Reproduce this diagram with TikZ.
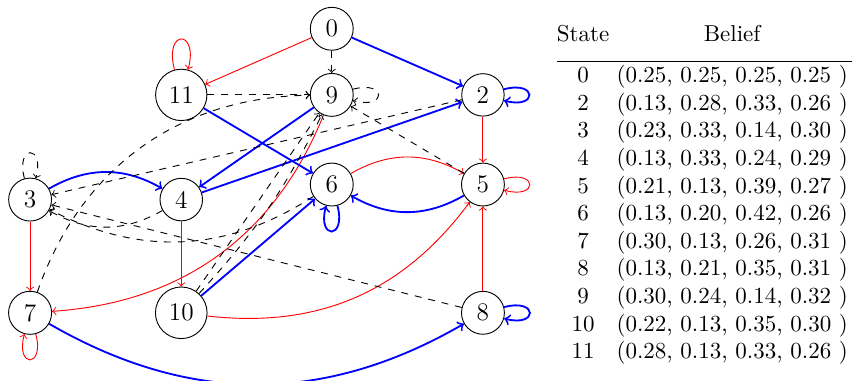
\documentclass[tikz,border=0pt]{standalone}
\usepackage{booktabs}

\begin{document}
\begin{tikzpicture}[
    state/.style={circle, draw, font=\fontsize{11}{13}\selectfont},
    obsr/.style={->, red},
    obsb/.style={->, blue, thick},
    obsd/.style={->, dashed}]
    \useasboundingbox (0, 0) rectangle (13.02, 5.82);
    \node[state] (s0) at (5.07, 5.38) {0};
    \node[state] (s11) at (2.77, 4.37) {11};
    \node[state] (s9) at (5.07, 4.37) {9};
    \node[state] (s2) at (7.38, 4.37) {2};
    \node[state] (s3) at (0.46, 2.77) {3};
    \node[state] (s4) at (2.77, 2.77) {4};
    \node[state] (s6) at (5.07, 3.00) {6};
    \node[state] (s5) at (7.38, 3.00) {5};
    \node[state] (s7) at (0.46, 1.04) {7};
    \node[state] (s10) at (2.77, 1.04) {10};
    \node[state] (s8) at (7.38, 1.04) {8};
    % red edges
    \draw[obsr] (s0) to (s11);
    \draw[obsr] (s11) to[loop above] (s11);
    \draw[obsr] (s2) to (s5);
    \draw[obsr] (s5) to[loop right] (s5);
    \draw[obsr] (s3) to (s7);
    \draw[obsr] (s7) to[loop below] (s7);
    \draw[obsr] (s4) to (s10);
    \draw[obsr] (s8) to (s5);
    \draw[obsr] (s6) to[bend left=30] (s5);
    \draw[obsr] (s10) to[bend right=30] (s5);
    \draw[obsr] (s9) to[bend left=32] (s7);
    % blue edges
    \draw[obsb] (s0) to (s2);
    \draw[obsb] (s2) to[loop right] (s2);
    \draw[obsb] (s11) to (s6);
    \draw[obsb] (s9) to (s4);
    \draw[obsb] (s4) to (s2);
    \draw[obsb] (s3) to[bend left=30] (s4);
    \draw[obsb] (s5) to[bend left=30] (s6);
    \draw[obsb] (s6) to[loop below] (s6);
    \draw[obsb] (s10) to (s6);
    \draw[obsb] (s7) to[bend right=30] (s8);
    \draw[obsb] (s8) to[loop right] (s8);
    % dashed edges
    \draw[obsd] (s0) to (s9);
    \draw[obsd] (s11) to (s9);
    \draw[obsd] (s9) to[loop right] (s9);
    \draw[obsd] (s5) to (s9);
    \draw[obsd] (s2) to (s3);
    \draw[obsd] (s3) to[loop above] (s3);
    \draw[obsd] (s8) to (s3);
    \draw[obsd] (s6) to[bend left=30] (s3);
    \draw[obsd] (s4) to[bend left=30] (s3);
    \draw[obsd] (s7) to[bend left=35] (s9);
    \draw[obsd] (s10) to (s9);
    \draw[obsd] (s10) to[bend right=8] (s9);
    % belief table
    \node[anchor=north east, inner sep=0pt] (tab) at (13.02, 5.485) {%
        \setlength\tabcolsep{1.6pt}%
        \setlength\aboverulesep{4.7pt}%
        \setlength\belowrulesep{0.6pt}%
        \begin{tabular}{@{}cc}
            State & Belief \\
            \midrule
            0 & (0.25, 0.25, 0.25, 0.25 ) \\
            2 & (0.13, 0.28, 0.33, 0.26 ) \\
            3 & (0.23, 0.33, 0.14, 0.30 ) \\
            4 & (0.13, 0.33, 0.24, 0.29 ) \\
            5 & (0.21, 0.13, 0.39, 0.27 ) \\
            6 & (0.13, 0.20, 0.42, 0.26 ) \\
            7 & (0.30, 0.13, 0.26, 0.31 ) \\
            8 & (0.13, 0.21, 0.35, 0.31 ) \\
            9 & (0.30, 0.24, 0.14, 0.32 ) \\
            10 & (0.22, 0.13, 0.35, 0.30 ) \\
            11 & (0.28, 0.13, 0.33, 0.26 ) \\
        \end{tabular}};
\end{tikzpicture}
\end{document}
